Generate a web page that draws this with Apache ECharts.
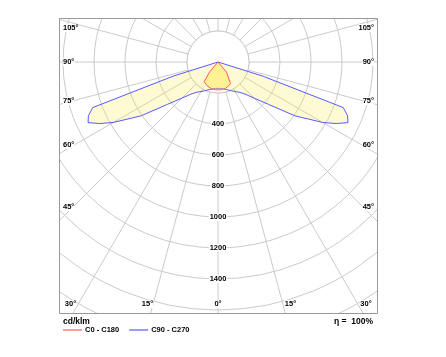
<!DOCTYPE html>
<html><head><meta charset="utf-8">
<script src="https://cdn.jsdelivr.net/npm/echarts@6/dist/echarts.min.js"></script>
<style>html,body{margin:0;padding:0;background:#fff}#c{width:446px;height:357px}</style>
</head><body><div id="c"></div>
<script>
// Photometric angles (gamma, 0 = straight down)
const gammaAngles = [0,5,10,15,20,25,30,35,40,45,50,55,60,62.5,65,67.5,70,72.5,75,90,105,120,135,150,165,180];
// Luminous intensity, cd/klm
const c0c180 =  [180,180,179,177,173,168,162,156,85,0,0,0,0,0,0,0,0,0,0,0,0,0,0,0,0,0];
const c90c270 = [170,171,175,182,192,205,220,238,270,330,425,605,780,860,925,905,860,300,0,0,0,0,0,0,0,0];
const seriesNames = ['C0 - C180','C90 - C270'];
const ringLabels = ['400','600','800','1000','1200','1400'];
const innerRing = 200;
const leftDegLabels = ['105°','90°','75°','60°','45°'];
const bottomDegLabels = ['30°','15°','0°','15°','30°'];
const rightDegLabels = ['105°','90°','75°','60°','45°'];
const unitLabel = 'cd/klm';
const effLabel = 'η =  100%';

function polarData(vals){
  const out = [];
  for (let i = 0; i < gammaAngles.length; i++) out.push([vals[i], gammaAngles[i]]);
  for (let i = gammaAngles.length - 1; i >= 0; i--) out.push([vals[i], 360 - gammaAngles[i]]);
  return out;
}

const sideY = [28, 62, 101, 145, 207];
const bottomX = [70.5, 147.5, 218, 290.5, 366];
const txt = {fontSize: 7.5, fontWeight: 'bold', fontFamily: 'Liberation Sans, Arial, sans-serif', fill: '#000'};
const graphics = [
  {type:'rect', z:100, shape:{x:0,y:0,width:446,height:18.5}, style:{fill:'#fff'}},
  {type:'rect', z:100, shape:{x:0,y:0,width:59.5,height:357}, style:{fill:'#fff'}},
  {type:'rect', z:100, shape:{x:377.5,y:0,width:70,height:357}, style:{fill:'#fff'}},
  {type:'rect', z:100, shape:{x:0,y:313.5,width:446,height:50}, style:{fill:'#fff'}},
  {type:'rect', z:101, shape:{x:59.5,y:18.5,width:318,height:295}, style:{fill:'none', stroke:'#999', lineWidth:1}}
];
leftDegLabels.forEach((t,i)=>graphics.push({type:'text', z:102, x:63, y:sideY[i], style:Object.assign({}, txt, {text:t, align:'left', verticalAlign:'middle', backgroundColor:'#fff'})}));
rightDegLabels.forEach((t,i)=>graphics.push({type:'text', z:102, x:374, y:sideY[i], style:Object.assign({}, txt, {text:t, align:'right', verticalAlign:'middle', backgroundColor:'#fff'})}));
bottomDegLabels.forEach((t,i)=>graphics.push({type:'text', z:102, x:bottomX[i], y:304, style:Object.assign({}, txt, {text:t, align:'center', verticalAlign:'middle', backgroundColor:'#fff'})}));
graphics.push({type:'text', z:102, x:63, y:322, style:Object.assign({}, txt, {text:unitLabel, fontSize:8.5, align:'left', verticalAlign:'middle'})});
graphics.push({type:'text', z:102, x:373, y:322, style:Object.assign({}, txt, {text:effLabel, fontSize:8.5, align:'right', verticalAlign:'middle'})});

const chart = echarts.init(document.getElementById('c'), null, {renderer:'canvas'});
chart.setOption({
  animation: false,
  backgroundColor: '#fff',
  polar: {center: [218, 62], radius: 310},
  angleAxis: {
    type:'value', min:0, max:360, interval:15, startAngle:270, clockwise:false,
    axisLine:{show:false}, axisTick:{show:false}, axisLabel:{show:false},
    splitLine:{show:true, lineStyle:{color:'#cbcbcb', width:1}}
  },
  radiusAxis: {
    type:'value', min:0, max:2000, interval:200,
    axisLine:{show:false}, axisTick:{show:false},
    splitLine:{show:true, lineStyle:{color:'#cbcbcb', width:1}},
    axisLabel:{
      formatter: v => ringLabels.indexOf(String(v)) >= 0 ? String(v) : '',
      margin:0, align:'center', verticalAlign:'middle', backgroundColor:'#fff', padding:[0,1],
      fontSize:7.5, fontWeight:'bold', color:'#000', fontFamily:'Liberation Sans, Arial, sans-serif'
    }
  },
  legend: {
    data: seriesNames, left: 63, top: 326, icon: 'rect', itemWidth: 19, itemHeight: 1.2, itemGap: 10, z: 300,
    textStyle:{fontSize:7.5, fontWeight:'bold', color:'#000', fontFamily:'Liberation Sans, Arial, sans-serif', padding:[0,0,0,-2]},
    padding: 0
  },
  series: [
    {type:'custom', coordinateSystem:'polar', z:1, silent:true, data:[[innerRing, 0]],
      renderItem:(params, api)=>{
        const c = api.coord([0, 0]);
        const p = api.coord([api.value(0), 0]);
        const r = Math.hypot(p[0]-c[0], p[1]-c[1]);
        return {type:'circle', shape:{cx:c[0], cy:c[1], r:r}, style:{fill:'#fff', stroke:'#cbcbcb', lineWidth:1}};
      }},
    {name: seriesNames[1], type:'line', coordinateSystem:'polar', symbol:'none', z:3,
      data: polarData(c90c270),
      lineStyle:{color:'#5a5aff', width:1}, itemStyle:{color:'#5a5aff'},
      areaStyle:{color:'rgba(245,235,80,0.35)'}},
    {name: seriesNames[0], type:'line', coordinateSystem:'polar', symbol:'none', z:4,
      data: polarData(c0c180),
      lineStyle:{color:'#ff5a5a', width:1}, itemStyle:{color:'#ff5a5a'},
      areaStyle:{color:'rgba(255,230,50,0.55)'}}
  ],
  graphic: graphics
});
</script></body></html>
